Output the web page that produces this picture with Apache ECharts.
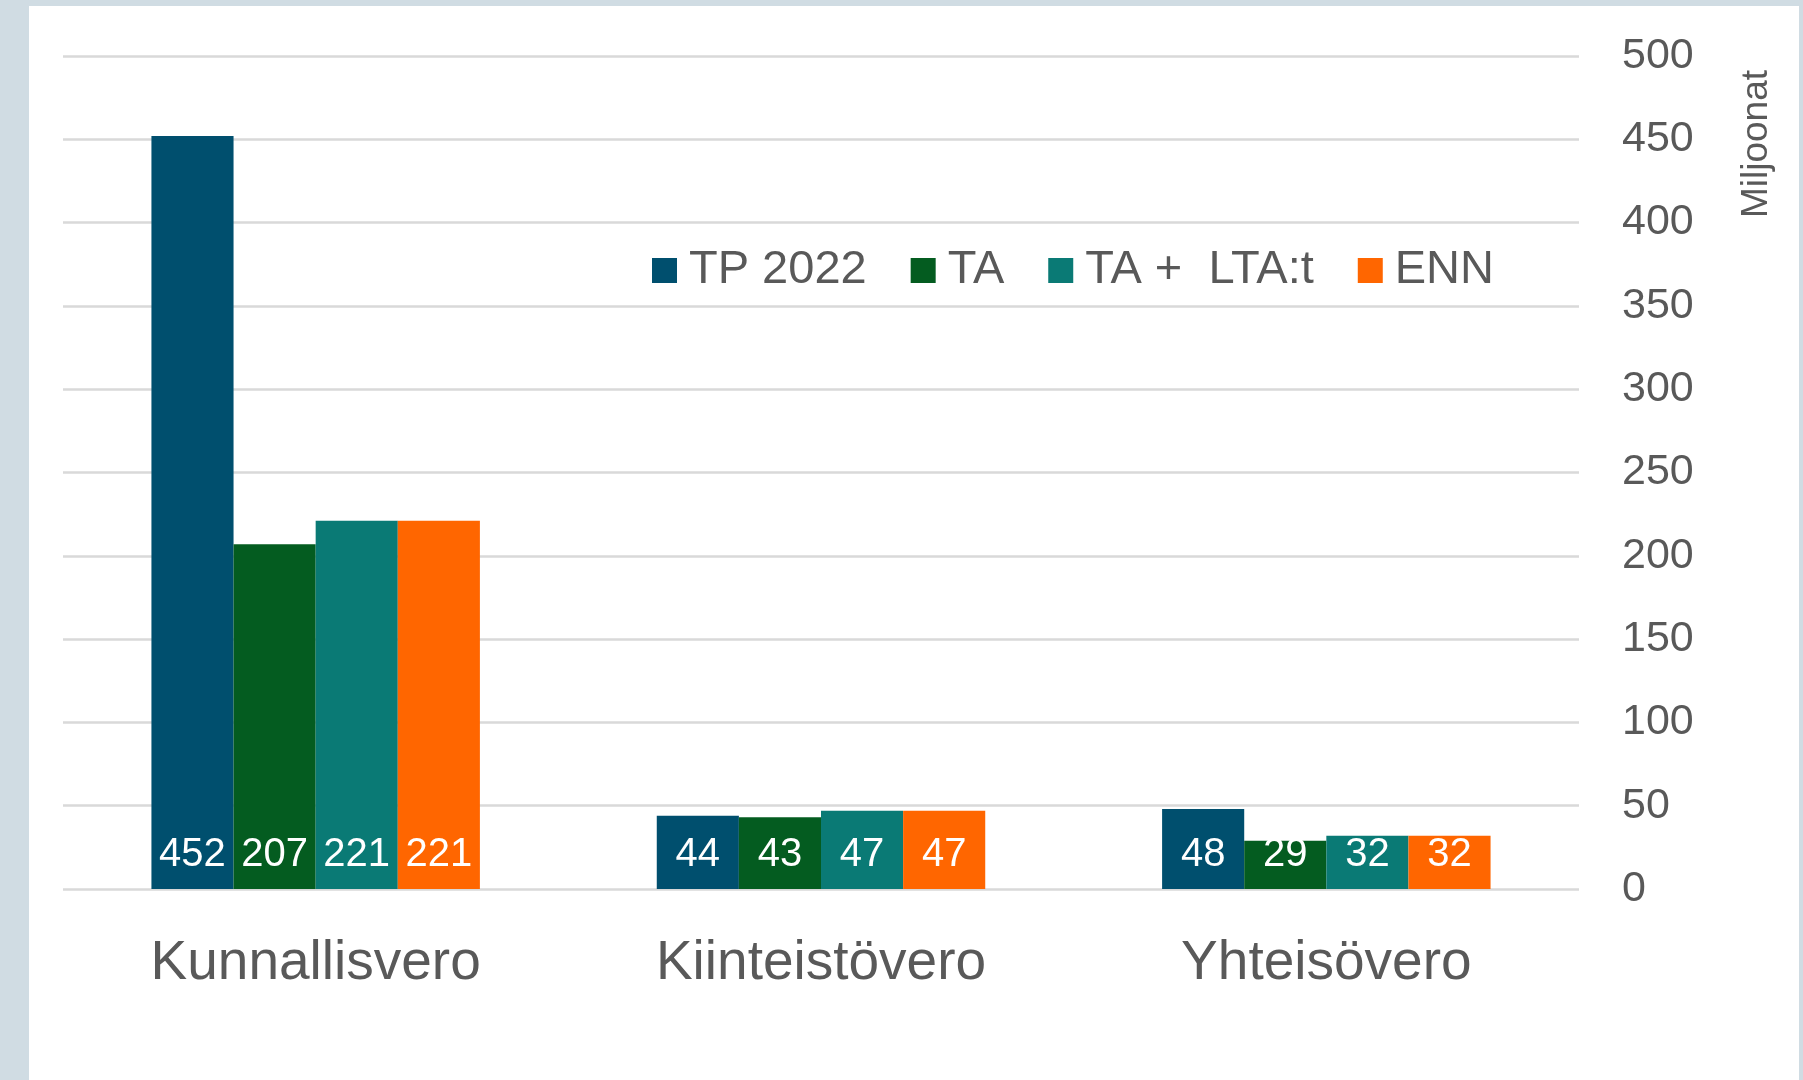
<!DOCTYPE html>
<html>
<head>
<meta charset="utf-8">
<script src="https://cdn.jsdelivr.net/npm/echarts@6/dist/echarts.min.js"></script>
<style>
  html, body { margin: 0; padding: 0; background: #d0dce3; }
  #echart { position: absolute; left: 29px; top: 6px; width: 1770px; height: 1074px; background: #ffffff; }
</style>
</head>
<body>
<div id="echart"></div>
<script>
var categories = ["Kunnallisvero", "Kiinteistövero", "Yhteisövero"];
var seriesNames = ["TP 2022", "TA", "TA +  LTA:t", "ENN"];
var tp2022 = [452, 44, 48];
var ta = [207, 43, 29];
var taLta = [221, 47, 32];
var enn = [221, 47, 32];
var colors = ["#004f6e", "#045c20", "#0a7a75", "#ff6600"];

var chartDom = document.getElementById('echart');
var myChart = echarts.init(chartDom);

var font = "'Liberation Sans', Arial, sans-serif";

function makeSeries(name, data, color) {
    return {
        name: name,
        type: "bar",
        data: data,
        barGap: "0%",
        barCategoryGap: "35%",
        itemStyle: { color: color },
        label: {
            show: true,
            position: "insideBottom",
            distance: 14,
            color: "#ffffff",
            fontSize: 40,
            fontFamily: font
        }
    };
}

var option = {
    animation: false,
    color: colors,
    textStyle: { fontFamily: font },
    grid: { left: 34, right: 220, top: 50, bottom: 191 },
    legend: {
        top: 236,
        left: 618,
        itemWidth: 25,
        itemHeight: 25,
        itemGap: 44,
        icon: "rect",
        textStyle: { fontSize: 47, color: "#595959", fontFamily: font, padding: [0, 0, 0, 7] },
        data: seriesNames
    },
    xAxis: {
        type: "category",
        data: categories,
        axisLine: { show: false },
        axisTick: { show: false },
        axisLabel: { fontSize: 55, color: "#595959", margin: 47, fontFamily: font }
    },
    yAxis: {
        type: "value",
        position: "right",
        min: 0,
        max: 500,
        interval: 50,
        axisLine: { show: false },
        axisTick: { show: false },
        splitLine: { lineStyle: { color: "#d9d9d9", width: 2.5 } },
        axisLabel: { fontSize: 43, color: "#595959", margin: 43, fontFamily: font }
    },
    graphic: [{
        type: "text",
        x: 1728,
        y: 138,
        rotation: Math.PI / 2,
        style: {
            text: "Miljoonat",
            fontSize: 37,
            fill: "#595959",
            fontFamily: font,
            align: "center",
            verticalAlign: "middle"
        }
    }],
    series: [
        makeSeries(seriesNames[0], tp2022, colors[0]),
        makeSeries(seriesNames[1], ta, colors[1]),
        makeSeries(seriesNames[2], taLta, colors[2]),
        makeSeries(seriesNames[3], enn, colors[3])
    ]
};

myChart.setOption(option);

window.addEventListener("resize", function () {
    myChart.resize();
});
</script>
</body>
</html>
